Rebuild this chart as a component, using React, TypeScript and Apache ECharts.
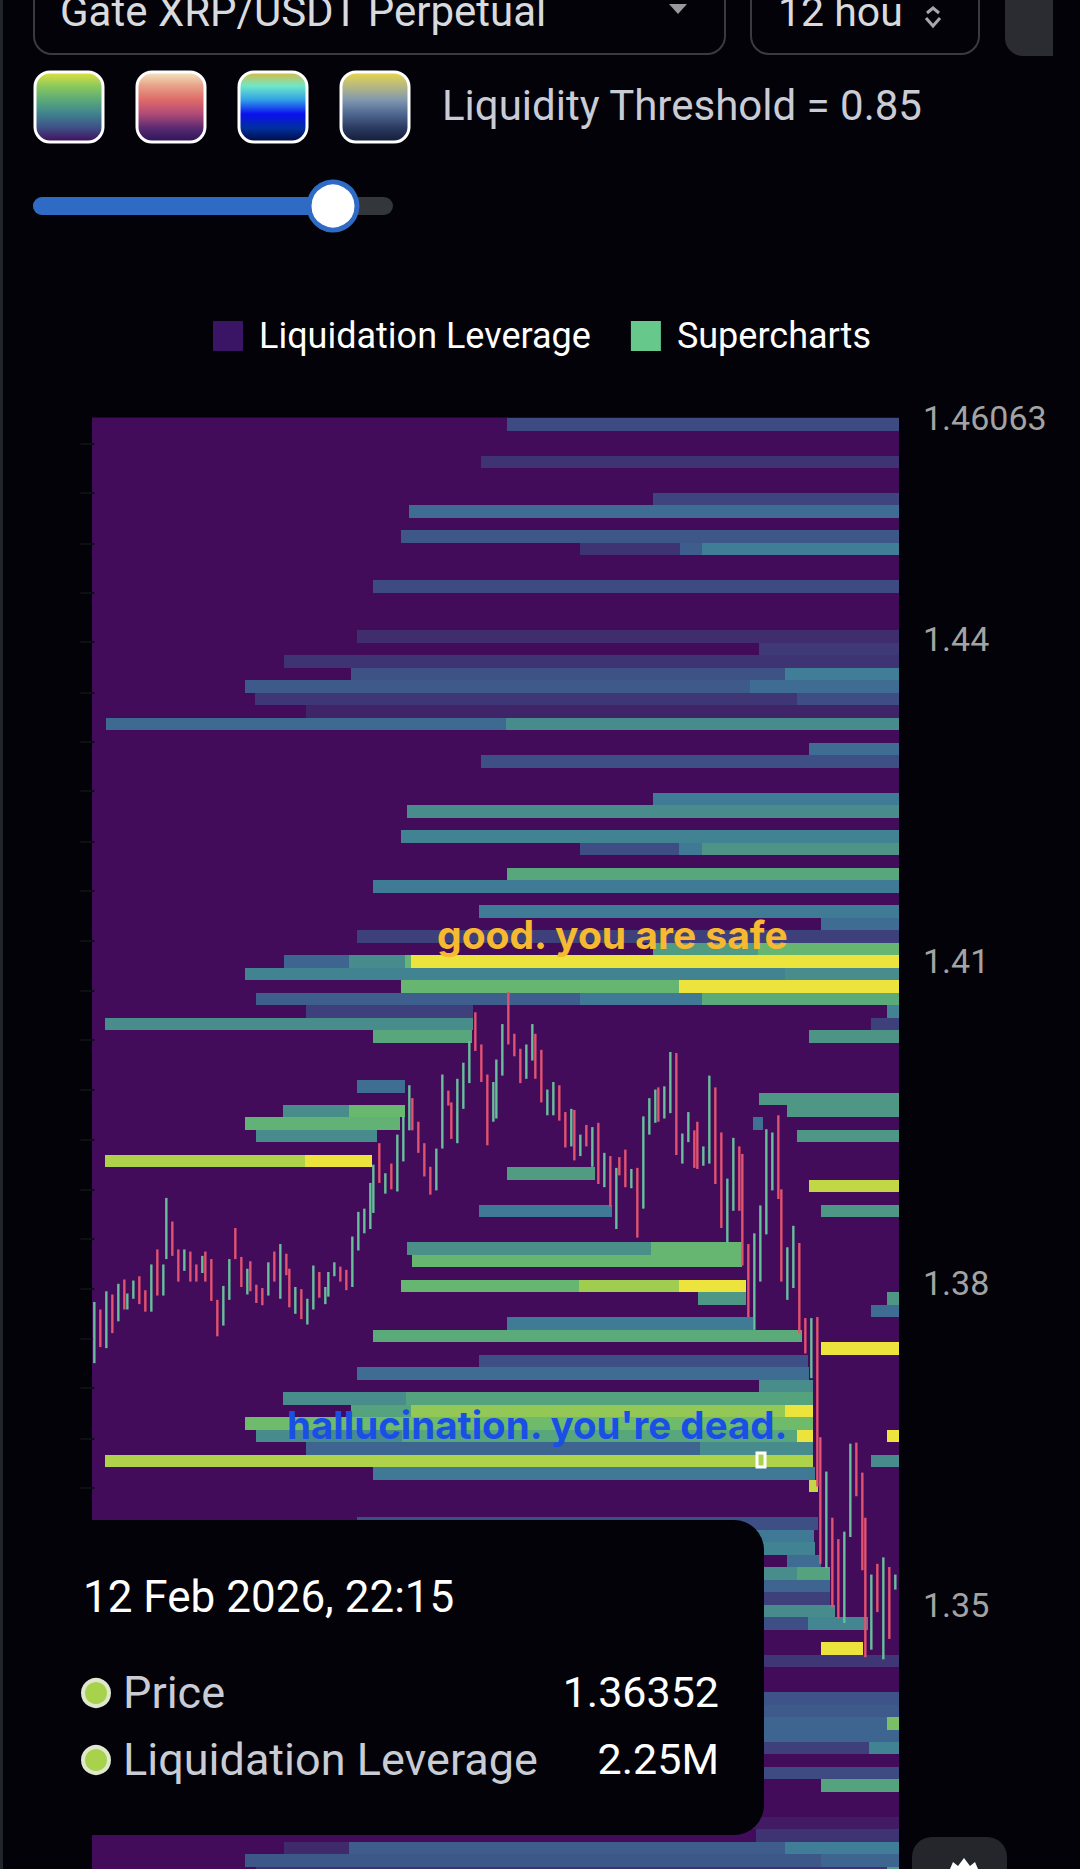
import React, { useEffect, useRef } from "react";
import * as echarts from "echarts";

const pageBackground = "#020208";
const plotBackground = "#420c5a";
const priceMax = 1.46063;
const priceMin = 1.32536;
const firstRowPrice = 1.46058;
const rowStep = 0.001164;
const priceLabels = [1.35, 1.38, 1.41, 1.44, 1.46063];
const leftTicks = [1.4582, 1.4536, 1.4489, 1.4443, 1.4397, 1.435, 1.4304, 1.4258, 1.4211, 1.4165, 1.4119, 1.4072, 1.4026, 1.398, 1.3933, 1.3887, 1.3841, 1.3794, 1.3748, 1.3702, 1.3655, 1.3609, 1.3563];

const paletteStops = ["#420c5a", "#3f2a6c", "#3e4a82", "#3e6490", "#3f7e96", "#4a9088", "#58a67c", "#68b870", "#8cc65a", "#aed24a", "#ece33c"];
const candleUp = "#66c09a";
const candleDown = "#e2536f";

// [price row, first time column, last time column, normalised leverage]
const liquidationBands: number[][] = [
  [0, 69.4, 135, 0.2], [3, 65, 135, 0.13], [6, 93.8, 135, 0.18], [7, 53, 135, 0.33], [9, 51.7, 135, 0.25],
  [10, 81.7, 98.3, 0.13], [10, 98.3, 102, 0.27], [10, 102, 135, 0.4], [13, 47, 135, 0.2], [17, 44.3, 135, 0.11],
  [18, 111.6, 135, 0.15], [19, 32.1, 135, 0.13], [20, 43.3, 116, 0.23], [20, 116, 135, 0.4], [21, 25.6, 110, 0.26],
  [21, 110, 135, 0.33], [22, 27.3, 118, 0.14], [22, 118, 135, 0.21], [23, 35.8, 135, 0.08], [24, 2.3, 69.3, 0.32],
  [24, 69.3, 135, 0.47], [26, 120, 135, 0.33], [27, 65, 135, 0.22], [30, 93.8, 135, 0.39], [31, 52.7, 135, 0.48],
  [33, 51.7, 135, 0.42], [34, 81.6, 98.2, 0.21], [34, 98.2, 102, 0.38], [34, 102, 135, 0.52], [36, 69.5, 135, 0.6],
  [37, 47, 135, 0.39], [39, 64.8, 135, 0.39], [40, 121.9, 135, 0.33], [41, 44.3, 135, 0.17], [42, 93.8, 111.4, 0.55],
  [42, 111.4, 135, 0.69], [43, 32.1, 43, 0.3], [43, 43, 52.4, 0.47], [43, 52.4, 53.3, 0.69], [43, 53.3, 135, 1],
  [44, 25.6, 116, 0.43], [44, 116, 135, 0.48], [45, 51.7, 98.2, 0.69], [45, 98.2, 135, 1], [46, 27.4, 81.6, 0.28],
  [46, 81.6, 102, 0.38], [46, 102, 135, 0.62], [47, 35.8, 63.7, 0.17], [47, 133, 135, 0.42], [48, 2.2, 63.7, 0.48],
  [48, 130.3, 135, 0.17], [49, 47, 63.6, 0.6], [49, 120, 135, 0.52], [53, 44.3, 52.4, 0.34], [54, 111.6, 135, 0.53],
  [55, 32, 43, 0.48], [55, 43, 52.4, 0.7], [55, 116.2, 135, 0.53], [56, 25.6, 51.5, 0.66], [56, 110.6, 112.3, 0.35],
  [57, 27.4, 47.7, 0.47], [57, 118, 135, 0.53], [59, 2.2, 35.6, 0.9], [59, 35.6, 46.8, 1], [60, 69.5, 84.1, 0.55],
  [61, 120, 135, 0.93], [63, 64.8, 87, 0.38], [63, 122, 135, 0.53], [66, 52.7, 93.5, 0.5], [66, 93.5, 108.7, 0.69],
  [67, 53.5, 108.7, 0.69], [69, 51.7, 81.4, 0.69], [69, 81.4, 98.2, 0.86], [69, 98.2, 109.4, 1], [70, 101.3, 109.4, 0.53],
  [70, 133, 135, 0.53], [71, 130.3, 135, 0.33], [72, 69.5, 110.5, 0.39], [73, 47, 118.7, 0.62], [74, 122, 135, 1],
  [75, 64.8, 119.8, 0.22], [76, 44.3, 120, 0.33], [77, 111.6, 120.6, 0.48], [78, 32, 52.5, 0.48], [78, 52.5, 120.6, 0.58],
  [79, 43.3, 53.3, 0.58], [79, 53.3, 116, 0.82], [79, 116, 120.6, 1], [80, 25.6, 120.6, 0.72], [81, 27.4, 51.9, 0.47],
  [81, 51.9, 117.9, 0.6], [81, 117.9, 120.6, 1], [81, 133, 135, 1], [82, 35.8, 101.7, 0.3], [82, 101.7, 120.6, 0.47],
  [83, 2.2, 120.6, 0.9], [83, 130.3, 135, 0.47], [84, 47, 121, 0.38], [85, 120, 121.5, 0.93], [88, 44.3, 121.4, 0.22],
  [89, 60, 120.8, 0.38], [90, 60, 121, 0.42], [91, 116.3, 122, 0.33], [92, 60, 118, 0.48], [92, 118, 123.5, 0.58],
  [93, 60, 123.5, 0.3], [94, 60, 123.5, 0.17], [95, 60, 124.3, 0.47], [96, 60, 119.8, 0.22], [96, 119.8, 129.8, 0.44],
  [98, 122, 129, 1], [99, 60, 135, 0.14], [102, 60, 135, 0.24], [103, 60, 135, 0.26], [104, 60, 133, 0.3],
  [104, 133, 135, 0.75], [105, 60, 135, 0.3], [106, 60, 130, 0.17], [106, 130, 135, 0.42], [108, 60, 135, 0.2],
  [109, 122, 135, 0.58], [112, 100, 135, 0.05], [113, 111, 135, 0.13], [114, 32.1, 43, 0.1], [114, 43, 116, 0.27],
  [114, 116, 135, 0.4], [115, 25.6, 122, 0.25], [115, 122, 135, 0.3], [116, 27.4, 133, 0.12], [116, 133, 135, 0.55],
];

// [candle step, open, close]
const candles: number[][] = [
  [0, 1.3725, 1.3782], [1, 1.3775, 1.374], [2, 1.3739, 1.3792], [3, 1.3789, 1.3753], [4, 1.3764, 1.3799], [5, 1.3803, 1.3775],
  [5.5, 1.3775, 1.379], [6.5, 1.3785, 1.3802], [7.5, 1.3806, 1.378], [8.5, 1.3793, 1.3773], [9.5, 1.3773, 1.3817], [10.5, 1.3831, 1.3788],
  [11.5, 1.3788, 1.3817], [12, 1.3822, 1.3879], [13, 1.3857, 1.3825], [14, 1.3831, 1.3801], [15, 1.3811, 1.3831], [16, 1.3829, 1.3801],
  [17, 1.3817, 1.3801], [18, 1.3809, 1.3825], [18.5, 1.3829, 1.3801], [19.5, 1.3822, 1.3783], [20.5, 1.3784, 1.375], [21.5, 1.376, 1.3797],
  [22.5, 1.3784, 1.3822], [23.5, 1.3851, 1.3822], [24.5, 1.3824, 1.3796], [25.5, 1.3789, 1.3813], [26, 1.382, 1.3792], [27, 1.3798, 1.3781],
  [28, 1.3795, 1.3779], [29, 1.3788, 1.3819], [30, 1.3829, 1.3801], [31, 1.3785, 1.3836], [32, 1.3827, 1.3807], [32.5, 1.3813, 1.3777],
  [33.5, 1.3771, 1.3796], [34.5, 1.3794, 1.3766], [35.5, 1.3761, 1.3785], [36.5, 1.3775, 1.3816], [37.5, 1.381, 1.3786], [38.5, 1.378, 1.3796],
  [39, 1.3787, 1.381], [40, 1.3806, 1.3819], [41, 1.3815, 1.3801], [42, 1.3812, 1.3793], [43, 1.3796, 1.3843], [44, 1.383, 1.3866],
  [45, 1.3846, 1.3869], [46, 1.385, 1.3893], [46.5, 1.3865, 1.391], [47.5, 1.393, 1.3893], [48.5, 1.3883, 1.3902], [49.5, 1.3911, 1.3887],
  [50.5, 1.3885, 1.3938], [51.5, 1.3913, 1.3955], [52.5, 1.3942, 1.3984], [53, 1.3972, 1.3942], [54, 1.395, 1.3921], [55, 1.393, 1.3899],
  [56, 1.3908, 1.3882], [57, 1.3886, 1.3925], [58, 1.3925, 1.3994], [59, 1.3979, 1.3965], [59.5, 1.3968, 1.3934], [60.5, 1.393, 1.399],
  [61.5, 1.3962, 1.4005], [62.5, 1.3986, 1.4025], [63.5, 1.4052, 1.4016], [64.5, 1.4022, 1.3987], [65.5, 1.3994, 1.3928], [66.5, 1.395, 1.3987],
  [67, 1.3953, 1.4008], [68, 1.3993, 1.4041], [69, 1.4071, 1.4022], [70, 1.4032, 1.4011], [71, 1.4018, 1.3986], [72, 1.399, 1.4022],
  [73, 1.4007, 1.4041], [73.5, 1.4032, 1.399], [74.5, 1.4017, 1.3968], [75.5, 1.3956, 1.398], [76.5, 1.3956, 1.3987], [77.5, 1.3984, 1.3951],
  [78.5, 1.3959, 1.3926], [79.5, 1.3927, 1.3962], [80, 1.3961, 1.3914], [81, 1.3918, 1.3938], [82, 1.3947, 1.3927], [83, 1.3908, 1.3945],
  [84, 1.3949, 1.3892], [85, 1.3889, 1.3921], [86, 1.3918, 1.3871], [87, 1.385, 1.3907], [87.5, 1.3917, 1.39], [88.5, 1.3924, 1.3889],
  [89.5, 1.3888, 1.3906], [90.5, 1.3907, 1.3842], [91.5, 1.3869, 1.3955], [92.5, 1.3938, 1.3972], [93.5, 1.3949, 1.398], [94, 1.3982, 1.395],
  [95, 1.3953, 1.3983], [96, 1.3958, 1.4015], [97, 1.4014, 1.3919], [98, 1.3911, 1.3939], [99, 1.3931, 1.3959], [100, 1.3942, 1.3907],
  [100.5, 1.395, 1.3906], [101.5, 1.3909, 1.3927], [102.5, 1.3911, 1.3993], [103.5, 1.3982, 1.3892], [104.5, 1.394, 1.3851], [105.5, 1.3837, 1.3897],
  [106.5, 1.3867, 1.3935], [107.5, 1.3927, 1.3867], [108, 1.392, 1.3816], [109, 1.3836, 1.3768], [110, 1.3756, 1.3846], [111, 1.3801, 1.3872],
  [112, 1.3845, 1.3943], [113, 1.3886, 1.394], [114, 1.3956, 1.3878], [114.5, 1.3887, 1.3801], [115.5, 1.3784, 1.3833], [116.5, 1.3795, 1.3853],
  [117.5, 1.3837, 1.3753], [118.5, 1.3767, 1.3734], [119.5, 1.3711, 1.3767], [120.5, 1.3768, 1.361], [121, 1.3656, 1.3538], [122, 1.3534, 1.3624],
  [123, 1.3581, 1.3497], [124, 1.3561, 1.3487], [125, 1.3483, 1.3568], [126, 1.3563, 1.365], [127, 1.3651, 1.3601], [128, 1.3623, 1.3532],
  [128.5, 1.3581, 1.3451], [129.5, 1.3458, 1.3528], [130.5, 1.3538, 1.3493], [131.5, 1.3449, 1.3544], [132.5, 1.3535, 1.3468], [133.5, 1.3514, 1.3528],
];

const swatches: string[][] = [
  ["#e2e23e", "#8cc85c", "#5aaa78", "#3f8290", "#3f4f86", "#420c5a"],
  ["#f3e8c2", "#e8a088", "#de6a68", "#b04a78", "#5a2a72", "#2a1458"],
  ["#dcb93e", "#6ee8c8", "#30a0e8", "#0a10f0", "#0030a0", "#000a40"],
  ["#e6d84a", "#b8b880", "#8098b0", "#4f6690", "#2a3a60", "#141c38"],
];

function hexToRgb(h: string) {
  return [parseInt(h.slice(1, 3), 16), parseInt(h.slice(3, 5), 16), parseInt(h.slice(5, 7), 16)];
}
function bandColor(v: number) {
  const t = Math.max(0, Math.min(1, v)) * (paletteStops.length - 1);
  const i = Math.min(Math.floor(t), paletteStops.length - 2);
  const a = hexToRgb(paletteStops[i]);
  const b = hexToRgb(paletteStops[i + 1]);
  const f = t - i;
  return `rgb(${a.map((c, k) => Math.round(c + (b[k] - c) * f)).join(",")})`;
}

const uiFont = "Roboto";

function buildGraphics() {
  const els: any[] = [];
  const z = 100;
  els.push({ type: "rect", z, shape: { x: 0, y: 0, width: 3, height: 1869 }, style: { fill: "#22252b" } });
  // selects
  els.push({ type: "rect", z, shape: { x: 34, y: -40, width: 691, height: 94, r: 18 }, style: { fill: "none", stroke: "#3a3b42", lineWidth: 2 } });
  els.push({ type: "rect", z, shape: { x: 751, y: -40, width: 228, height: 94, r: 18 }, style: { fill: "none", stroke: "#3a3b42", lineWidth: 2 } });
  els.push({ type: "rect", z, shape: { x: 1005, y: -40, width: 48, height: 96, r: [0, 0, 0, 18] }, style: { fill: "#2b2c31" } });
  els.push({ type: "text", z, style: { text: "Gate XRP/USDT Perpetual", x: 60, y: 32, textVerticalAlign: "bottom", fill: "#d8dade", font: `42px ${uiFont}` } });
  els.push({ type: "text", z, style: { text: "12 hou", x: 778, y: 32, textVerticalAlign: "bottom", fill: "#d8dade", font: `41px ${uiFont}` } });
  els.push({ type: "polygon", z, shape: { points: [[669, 4], [687, 4], [678, 14]] }, style: { fill: "#9a9a9e" } });
  els.push({ type: "polyline", z, shape: { points: [[926, 18], [933, 26], [940, 18]] }, style: { stroke: "#a8a8ac", lineWidth: 3, fill: "none" } });
  els.push({ type: "polyline", z, shape: { points: [[927, 13], [933, 8], [939, 13]] }, style: { stroke: "#a8a8ac", lineWidth: 3, fill: "none" } });
  // palette swatches
  swatches.forEach((colors, i) => {
    const x = 35 + i * 102;
    els.push({
      type: "rect", z,
      shape: { x, y: 72, width: 68, height: 70, r: 15 },
      style: {
        stroke: "#ffffff", lineWidth: 3,
        fill: new echarts.graphic.LinearGradient(0, 0, 0, 1, colors.map((color, k) => ({ offset: k / (colors.length - 1), color }))),
      },
    });
  });
  els.push({ type: "text", z, style: { text: "Liquidity Threshold = 0.85", x: 442, y: 105, textVerticalAlign: "middle", fill: "#c9ccd4", font: `42px ${uiFont}` } });
  // slider
  els.push({ type: "rect", z, shape: { x: 33, y: 197, width: 360, height: 18, r: 9 }, style: { fill: "#33363a" } });
  els.push({ type: "rect", z, shape: { x: 33, y: 197, width: 300, height: 18, r: 9 }, style: { fill: "#2f6bc4" } });
  els.push({ type: "circle", z, shape: { cx: 333, cy: 206, r: 24 }, style: { fill: "#ffffff", stroke: "#2f6bc4", lineWidth: 5 } });
  // annotations
  els.push({ type: "text", z, style: { text: "good. you are safe", x: 437, y: 934, textVerticalAlign: "middle", fill: "#f6b92f", font: `700 39px Inter` } });
  els.push({ type: "text", z, style: { text: "hallucination. you're dead.", x: 287, y: 1425, textVerticalAlign: "middle", fill: "#1a4fe6", font: `700 38.5px Inter` } });
  // hovered cell
  els.push({ type: "rect", z, shape: { x: 757, y: 1453, width: 8, height: 14 }, style: { fill: "#a8d24c", stroke: "#ffffff", lineWidth: 3 } });
  // tooltip
  els.push({ type: "rect", z, shape: { x: 28, y: 1520, width: 736, height: 315, r: 30 }, style: { fill: "#020208" } });
  els.push({ type: "text", z: z + 1, style: { text: "12 Feb 2026, 22:15", x: 83, y: 1597, textVerticalAlign: "middle", fill: "#ffffff", font: `44px ${uiFont}` } });
  const rows: [string, string, number][] = [["Price", "1.36352", 1692], ["Liquidation Leverage", "2.25M", 1759]];
  rows.forEach(([label, value, y]) => {
    els.push({ type: "circle", z: z + 1, shape: { cx: 96, cy: y + 1, r: 13 }, style: { fill: "#a8d24c", stroke: "#dfe8cf", lineWidth: 4 } });
    els.push({ type: "text", z: z + 1, style: { text: label, x: 123, y, textVerticalAlign: "middle", fill: "#c9ccd4", font: `45px ${uiFont}` } });
    els.push({ type: "text", z: z + 1, style: { text: value, x: 719, y, textAlign: "right", textVerticalAlign: "middle", fill: "#ffffff", font: `43px ${uiFont}` } });
  });
  // corner button
  els.push({ type: "rect", z, shape: { x: 912, y: 1837, width: 95, height: 60, r: 20 }, style: { fill: "#25262c" } });
  els.push({ type: "polygon", z: z + 1, shape: { points: [[950, 1869], [953, 1862], [958, 1866], [964, 1858], [970, 1866], [975, 1862], [978, 1869]] }, style: { fill: "#ffffff" } });
  return els;
}

export default function App() {
  const ref = useRef<HTMLDivElement>(null);
  useEffect(() => {
    document.body.style.margin = "0";
    document.body.style.background = pageBackground;
    const chart = echarts.init(ref.current!, undefined, { renderer: "svg" });
    const option: any = {
      animation: false,
      backgroundColor: pageBackground,
      legend: {
        left: 213, top: 318, padding: 0, itemWidth: 30, itemHeight: 30, itemGap: 40,
        textStyle: { color: "#ffffff", fontFamily: uiFont, fontSize: 36, padding: [0, 0, 0, 11] },
        data: [
          { name: "Liquidation Leverage", icon: "rect", itemStyle: { color: "#3a1566" } },
          { name: "Supercharts", icon: "rect", itemStyle: { color: "#66c98b" } },
        ],
      },
      grid: { left: 92, right: 181, top: 417.5, bottom: 0, show: true, backgroundColor: plotBackground, borderWidth: 0 },
      xAxis: [
        { type: "value", min: 0, max: 135, show: false },
        { type: "value", min: -0.39, max: 134.11, show: false },
      ],
      yAxis: [
        {
          type: "value", position: "right", min: priceMin, max: priceMax, scale: true,
          axisLine: { show: false }, axisTick: { show: false }, splitLine: { show: false },
          axisLabel: {
            customValues: priceLabels, margin: 24, color: "#a3a3a3", fontFamily: uiFont, fontSize: 34,
            padding: [0, 0, 2, 0],
            hideOverlap: false,
            formatter: (v: number) => String(v),
          },
        },
        {
          type: "value", position: "left", min: priceMin, max: priceMax, scale: true,
          axisLine: { show: false }, splitLine: { show: false }, axisLabel: { show: false },
          axisTick: { show: true, customValues: leftTicks, length: 14, lineStyle: { color: "#0e0e14", width: 2 } },
        },
      ],
      series: [
        {
          name: "Liquidation Leverage",
          type: "custom",
          xAxisIndex: 0,
          yAxisIndex: 0,
          clip: true,
          z: 1,
          silent: true,
          itemStyle: { color: "#3a1566" },
          encode: { x: [0, 1], y: [2, 3] },
          data: liquidationBands.map(([row, from, to, v]) => [from, to, firstRowPrice - row * rowStep, firstRowPrice - (row + 1) * rowStep, v]),
          renderItem: (_: any, api: any) => {
            const a = api.coord([api.value(0), api.value(2)]);
            const b = api.coord([api.value(1), api.value(3)]);
            const x0 = Math.round(a[0]), y0 = Math.round(a[1]), x1 = Math.round(b[0]), y1 = Math.round(b[1]);
            return {
              type: "rect",
              shape: { x: x0, y: y0, width: x1 - x0, height: y1 - y0 },
              style: { fill: bandColor(api.value(4)) },
            };
          },
        },
        {
          name: "Supercharts",
          type: "custom",
          xAxisIndex: 1,
          yAxisIndex: 0,
          z: 2,
          clip: true,
          silent: true,
          itemStyle: { color: candleUp },
          encode: { x: 0, y: [1, 2] },
          data: candles,
          renderItem: (_: any, api: any) => {
            const open = api.value(1);
            const close = api.value(2);
            const a = api.coord([api.value(0), Math.max(open, close)]);
            const b = api.coord([api.value(0), Math.min(open, close)]);
            return {
              type: "rect",
              shape: { x: a[0] - 1.2, y: a[1], width: 2.4, height: b[1] - a[1] },
              style: { fill: close >= open ? candleUp : candleDown },
            };
          },
        },
      ],
      graphic: { elements: buildGraphics() },
    };
    chart.setOption(option);
    return () => chart.dispose();
  }, []);
  return <div ref={ref} style={{ position: "absolute", left: 0, top: 0, width: 1080, height: 1869 }} />;
}
